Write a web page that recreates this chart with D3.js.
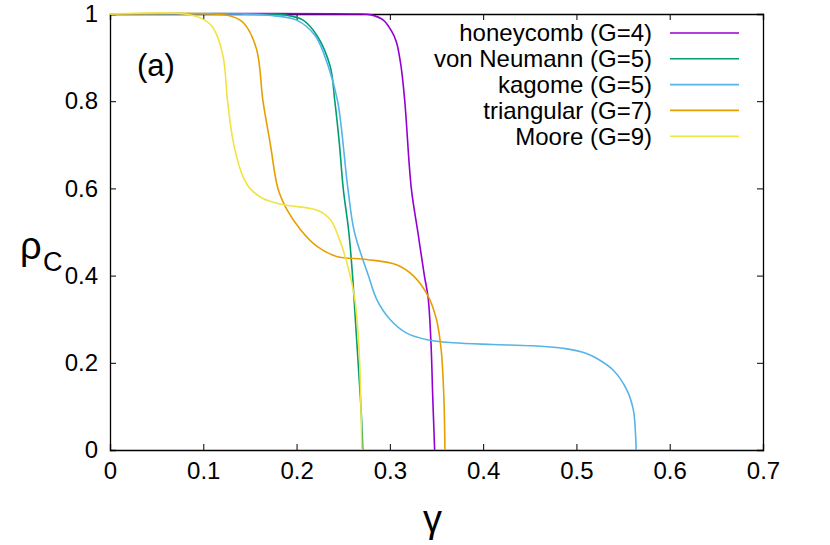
<!DOCTYPE html>
<html>
<head>
<meta charset="utf-8">
<script src="https://cdn.jsdelivr.net/npm/d3@7"></script>
<style>
body { margin:0; background:#fff; }
text { font-family: "Liberation Sans", Arial, sans-serif; }
</style>
</head>
<body>
<div id="chart"></div>
<script>
// data: [gamma, rho_C]
var honeycomb = [[0,1],[0.26,1],[0.28,0.998],[0.293,0.986],[0.302,0.96],[0.307,0.936],[0.312,0.88],[0.316,0.8],[0.323,0.6],[0.33,0.5],[0.337,0.4],[0.341,0.35],[0.344,0.25],[0.346,0.12],[0.3475,0.03],[0.348,0]];
var vonNeumann = [[0,1],[0.17,1],[0.19,0.997],[0.207,0.986],[0.222,0.95],[0.236,0.88],[0.241,0.8],[0.246,0.7],[0.25,0.6],[0.256,0.5],[0.26,0.4],[0.263,0.3],[0.266,0.2],[0.269,0.1],[0.2705,0.03],[0.271,0]];
var kagome = [[0,1],[0.14,1],[0.17,0.997],[0.2,0.986],[0.22,0.95],[0.234,0.88],[0.244,0.8],[0.255,0.6],[0.262,0.5],[0.277,0.4],[0.286,0.345],[0.3,0.3],[0.318,0.268],[0.34,0.253],[0.368,0.246],[0.41,0.242],[0.453,0.239],[0.49,0.232],[0.51,0.222],[0.522,0.21],[0.539,0.184],[0.554,0.138],[0.561,0.092],[0.5635,0.03],[0.564,0]];
var triangular = [[0,1],[0.11,1],[0.13,0.995],[0.143,0.98],[0.157,0.92],[0.164,0.8],[0.172,0.7],[0.18,0.6],[0.19,0.55],[0.204,0.506],[0.222,0.467],[0.243,0.444],[0.275,0.437],[0.307,0.425],[0.325,0.4],[0.341,0.353],[0.35,0.299],[0.355,0.23],[0.358,0.115],[0.359,0]];
var moore = [[0,1],[0.08,1],[0.098,0.99],[0.11,0.97],[0.121,0.905],[0.126,0.8],[0.131,0.72],[0.136,0.67],[0.142,0.63],[0.15,0.6],[0.164,0.577],[0.185,0.563],[0.222,0.55],[0.236,0.529],[0.246,0.483],[0.255,0.421],[0.2625,0.345],[0.267,0.23],[0.269,0.1],[0.27,0]];

var seriesNames = ["honeycomb (G=4)", "von Neumann (G=5)", "kagome (G=5)", "triangular (G=7)", "Moore (G=9)"];
var seriesData = [honeycomb, vonNeumann, kagome, triangular, moore];
var colors = ["#9400d3", "#009e73", "#56b4e9", "#e69f00", "#f0e442"];
var xTicks = [0, 0.1, 0.2, 0.3, 0.4, 0.5, 0.6, 0.7];
var yTicks = [0, 0.2, 0.4, 0.6, 0.8, 1];

var margin = {top:14, right:67, bottom:95, left:110};
var width = 830 - margin.left - margin.right;
var height = 545 - margin.top - margin.bottom;

var svg = d3.select("#chart").append("svg")
     .attr("width", 830)
     .attr("height", 545)
     .append("g")
     .attr("transform", "translate(" + margin.left + "," + margin.top + ")");

var x = d3.scaleLinear().domain([0, 0.7]).range([0, width]);
var y = d3.scaleLinear().domain([0, 1]).range([height, 0]);

var line = d3.line()
     .x(function (d) { return x(d[0]); })
     .y(function (d) { return y(d[1]); })
     .curve(d3.curveCatmullRom.alpha(0.5));

// axes, ticks pointing inward
svg.append("g")
     .attr("transform", "translate(0," + height + ")")
     .call(d3.axisBottom(x).tickValues(xTicks).tickSize(-6).tickPadding(12).tickFormat(function(d){ return d === 0 ? "0" : d3.format(".1f")(d); }));
svg.append("g")
     .call(d3.axisTop(x).tickValues(xTicks).tickSize(-6).tickFormat(""));
svg.append("g")
     .call(d3.axisLeft(y).tickValues(yTicks).tickSize(-6).tickPadding(12).tickFormat(function(d){ return d === 0 || d === 1 ? d : d3.format(".1f")(d); }));
svg.append("g")
     .attr("transform", "translate(" + width + ",0)")
     .call(d3.axisRight(y).tickValues(yTicks).tickSize(-6).tickFormat(""));
svg.selectAll(".domain").attr("stroke", "#000").attr("stroke-width", 1.3);
svg.selectAll(".tick line").attr("stroke", "#000");
svg.selectAll(".tick text").attr("font-size", 24).style("font-size", "24px").attr("fill", "#000");

seriesData.forEach(function (s, i) {
     svg.append("path")
          .datum(s)
          .attr("d", line)
          .attr("fill", "none")
          .attr("stroke", colors[i])
          .attr("stroke-width", 1.6);
});

// legend
seriesNames.forEach(function (n, i) {
     var ly = 19 + i * 25.8;
     svg.append("text")
          .attr("x", 542)
          .attr("y", ly)
          .attr("dy", "0.35em")
          .style("text-anchor", "end")
          .style("font-size", "24px")
          .text(n);
     svg.append("line")
          .attr("x1", 560).attr("x2", 629)
          .attr("y1", ly).attr("y2", ly)
          .attr("stroke", colors[i])
          .attr("stroke-width", 1.6);
});

svg.append("text")
     .attr("x", 27).attr("y", 62)
     .style("font-size", "31px")
     .text("(a)");

// axis labels
svg.append("text")
     .attr("x", -90).attr("y", 245)
     .style("font-size", "38px")
     .text("ρ");
svg.append("text")
     .attr("x", -67).attr("y", 257)
     .style("font-size", "27px")
     .text("C");
svg.append("text")
     .attr("x", width / 2 - 4).attr("y", height + 82)
     .style("text-anchor", "middle")
     .style("font-size", "38px")
     .text("γ");
</script>
</body>
</html>
